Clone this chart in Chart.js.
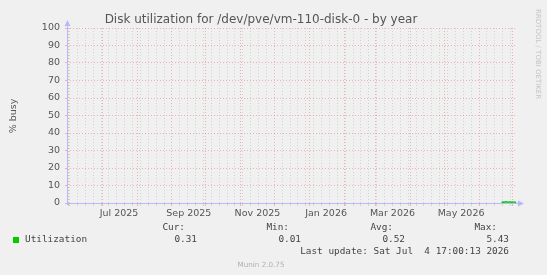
<!DOCTYPE html>
<html>
<head>
<meta charset="utf-8">
<script src="https://cdn.jsdelivr.net/npm/chart.js@4/dist/chart.umd.min.js"></script>
<style>
  html, body { margin: 0; padding: 0; background: #f0f0f0; }
</style>
</head>
<body>
<canvas id="chart" width="547" height="275"></canvas>
<script>
const chartTitle = 'Disk utilization for /dev/pve/vm-110-disk-0 - by year';
const unitLabel = '% busy';
const seriesName = 'Utilization';

// x values are days counted from 1 Jul 2025
const DAY = 86400000;
const ORIGIN = Date.UTC(2025, 6, 1);
function dayOf(y, m, d) { return (Date.UTC(y, m - 1, d) - ORIGIN) / DAY; }

const xLabels = ['Jul 2025', 'Sep 2025', 'Nov 2025', 'Jan 2026', 'Mar 2026', 'May 2026'];
const xLabelMonths = [[2025, 7], [2025, 9], [2025, 11], [2026, 1], [2026, 3], [2026, 5]];

// daily averages, only the last two weeks have data
const dataDates = [
  [2026, 6, 21], [2026, 6, 22], [2026, 6, 23], [2026, 6, 24], [2026, 6, 25],
  [2026, 6, 26], [2026, 6, 27], [2026, 6, 28], [2026, 6, 29], [2026, 6, 30],
  [2026, 7, 1], [2026, 7, 2], [2026, 7, 3], [2026, 7, 4]
];
const utilization = [0.48, 0.61, 0.44, 0.57, 0.69, 0.52, 0.47, 0.63, 0.55, 0.42, 0.58, 0.50, 0.46, 0.31];

const statHeads = ['Cur:', 'Min:', 'Avg:', 'Max:'];
const statValues = ['0.31', '0.01', '0.52', '5.43'];
const lastUpdate = 'Last update: Sat Jul  4 17:00:13 2026';
const footer = 'Munin 2.0.75';
const watermark = 'RRDTOOL / TOBI OETIKER';

const xMax = dayOf(2026, 7, 4) + 17 / 24;
const xMin = xMax - 400;

// x ticks: month starts (major), mondays (minor), mid-month labels
const xTicks = [];
for (let y = 2025, m = 6; y < 2026 || m <= 7; m++) {
  if (m > 12) { m = 1; y++; }
  const d = dayOf(y, m, 1);
  if (d >= xMin && d <= xMax) xTicks.push({ value: d, kind: 'major' });
  if (y === 2026 && m === 7) break;
}
for (let d = dayOf(2025, 6, 2); d <= xMax; d += 7) {
  if (d >= xMin && !xTicks.some(t => t.value === d)) xTicks.push({ value: d, kind: 'minor' });
}
xLabelMonths.forEach((ym, i) => {
  xTicks.push({ value: dayOf(ym[0], ym[1], 1) + 15, kind: 'label', label: xLabels[i] });
});
xTicks.sort((a, b) => a.value - b.value);

const points = dataDates.map((d, i) => ({ x: dayOf(d[0], d[1], d[2]), y: utilization[i] }));

const RED = 'rgba(230, 90, 90, 0.42)';
const GREY = 'rgba(150, 150, 150, 0.32)';
const AXIS = '#b8b8ff';
const TEXT = '#555';

function xColor(c) {
  const t = c.tick;
  if (!t) return 'transparent';
  if (t.kind === 'major') return RED;
  if (t.kind === 'minor') return GREY;
  return 'transparent';
}
function yColor(c) {
  const t = c.tick;
  if (!t) return 'transparent';
  return t.value % 10 === 0 ? RED : GREY;
}

const decor = {
  id: 'decor',
  afterDraw(chart) {
    const ctx = chart.ctx;
    const a = chart.chartArea;
    ctx.save();

    // axes with arrows
    ctx.strokeStyle = AXIS;
    ctx.fillStyle = AXIS;
    ctx.lineWidth = 1;
    ctx.beginPath();
    ctx.moveTo(a.left + 0.5, a.bottom + 2);
    ctx.lineTo(a.left + 0.5, a.top - 4);
    ctx.moveTo(a.left - 2, a.bottom + 0.5);
    ctx.lineTo(a.right + 3, a.bottom + 0.5);
    ctx.stroke();
    ctx.beginPath();
    ctx.moveTo(a.left + 0.5, a.top - 8);
    ctx.lineTo(a.left - 2.5, a.top - 2);
    ctx.lineTo(a.left + 3.5, a.top - 2);
    ctx.closePath();
    ctx.fill();
    ctx.beginPath();
    ctx.moveTo(a.right + 7, a.bottom + 0.5);
    ctx.lineTo(a.right + 1, a.bottom - 2.5);
    ctx.lineTo(a.right + 1, a.bottom + 3.5);
    ctx.closePath();
    ctx.fill();

    // title
    ctx.fillStyle = TEXT;
    ctx.font = '12px "DejaVu Sans"';
    ctx.textAlign = 'center';
    ctx.textBaseline = 'alphabetic';
    ctx.fillText(chartTitle, 261, 23);

    // unit label
    ctx.save();
    ctx.translate(14, 116);
    ctx.rotate(-Math.PI / 2);
    ctx.font = '9.5px "DejaVu Sans"';
    ctx.textBaseline = 'middle';
    ctx.fillText(unitLabel, 0, 0);
    ctx.restore();

    // watermark
    ctx.save();
    ctx.translate(538, 9);
    ctx.rotate(Math.PI / 2);
    ctx.fillStyle = '#c4c4c4';
    ctx.font = '7px "DejaVu Sans"';
    ctx.textAlign = 'left';
    ctx.textBaseline = 'middle';
    ctx.fillText(watermark, 0, 0);
    ctx.restore();

    // legend
    ctx.font = '9.4px "DejaVu Sans Mono"';
    ctx.fillStyle = '#444';
    ctx.textBaseline = 'middle';
    ctx.textAlign = 'right';
    const headX = [185, 289, 393, 497];
    const valX = [197, 301, 405, 509];
    statHeads.forEach((h, i) => ctx.fillText(h, headX[i], 228));
    statValues.forEach((v, i) => ctx.fillText(v, valX[i], 240));
    ctx.fillText(lastUpdate, 509, 252);
    ctx.textAlign = 'left';
    ctx.fillText(seriesName, 25, 240);
    ctx.fillStyle = '#00cc00';
    ctx.fillRect(13, 237, 6, 6);

    // footer
    ctx.fillStyle = '#b0b0b0';
    ctx.font = '7.2px "DejaVu Sans"';
    ctx.textAlign = 'center';
    ctx.fillText(footer, 261, 265);

    ctx.restore();
  }
};

const ctx = document.getElementById('chart').getContext('2d');
const chart = new Chart(ctx, {
  type: 'line',
  data: {
    datasets: [{
      label: seriesName,
      data: points,
      borderColor: '#00cc00',
      borderWidth: 1.5,
      pointRadius: 0,
      fill: false,
      tension: 0
    }]
  },
  options: {
    responsive: false,
    animation: false,
    layout: { padding: { top: 28, right: 30, left: 0, bottom: 0 } },
    plugins: {
      legend: { display: false },
      tooltip: { enabled: false },
      title: { display: false }
    },
    scales: {
      x: {
        type: 'linear',
        min: xMin,
        max: xMax,
        afterFit: s => { s.height = 72; },
        afterBuildTicks: s => { s.ticks = xTicks.map(t => ({ value: t.value, kind: t.kind, label: t.label })); },
        grid: { color: xColor, tickColor: xColor, lineWidth: 1, tickLength: 3 },
        border: { display: false, dash: [1, 2] },
        ticks: {
          autoSkip: false,
          maxRotation: 0,
          padding: 2,
          color: TEXT,
          font: { family: 'DejaVu Sans', size: 9.5 },
          callback: (v, i, ts) => ts[i].label || ''
        }
      },
      y: {
        min: 0,
        max: 100,
        afterFit: s => { s.width = 67; },
        grid: { color: yColor, tickColor: yColor, lineWidth: 1, tickLength: 2 },
        border: { display: false, dash: [1, 2] },
        ticks: {
          stepSize: 5,
          padding: 5,
          color: TEXT,
          font: { family: 'DejaVu Sans', size: 9.5 },
          callback: v => (v % 10 === 0 ? v : '')
        }
      }
    }
  },
  plugins: [decor]
});
</script>
</body>
</html>
